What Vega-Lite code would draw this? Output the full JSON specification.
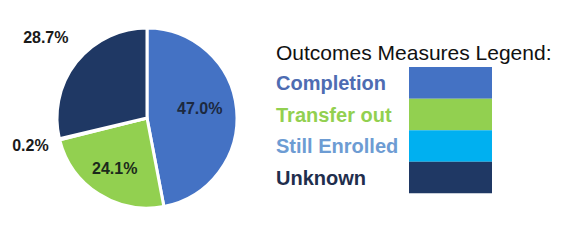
{
  "$schema": "https://vega.github.io/schema/vega-lite/v6.json",
  "padding": {"left": 12, "top": 0, "right": 0, "bottom": 0},
  "spacing": 0,
  "bounds": "flush",
  "background": "white",
  "config": {"view": {"stroke": null}, "font": "Liberation Sans"},
  "datasets": {
    "outcomes": [
      {"category": "Completion", "value": 47.0, "label": "47.0%", "rank": 1},
      {"category": "Transfer out", "value": 24.1, "label": "24.1%", "rank": 2},
      {"category": "Still Enrolled", "value": 0.2, "label": "0.2%", "rank": 3},
      {"category": "Unknown", "value": 28.7, "label": "28.7%", "rank": 4}
    ],
    "legendTitle": [{"title": "Outcomes Measures Legend:"}]
  },
  "hconcat": [
    {
      "width": 258,
      "height": 236,
      "data": {"name": "outcomes"},
      "encoding": {
        "theta": {"field": "value", "type": "quantitative", "stack": true},
        "order": {"field": "rank", "type": "quantitative"}
      },
      "layer": [
        {
          "mark": {"type": "arc", "radius": 90, "stroke": "white", "strokeWidth": 3},
          "encoding": {
            "color": {
              "field": "category",
              "type": "nominal",
              "scale": {
                "domain": ["Completion", "Transfer out", "Still Enrolled", "Unknown"],
                "range": ["#4472C4", "#92D050", "#00B0F0", "#1F3864"]
              },
              "legend": null
            }
          }
        },
        {
          "mark": {"type": "text", "radius": 53, "dy": -4, "fontSize": 16, "fontWeight": "bold", "color": "#1c2940"},
          "encoding": {
            "text": {
              "condition": {"test": "datum.category === 'Completion'", "field": "label"},
              "value": ""
            }
          }
        },
        {
          "mark": {"type": "text", "radius": 60, "fontSize": 16, "fontWeight": "bold", "color": "#1b2a1b"},
          "encoding": {
            "text": {
              "condition": {"test": "datum.category === 'Transfer out'", "field": "label"},
              "value": ""
            }
          }
        },
        {
          "mark": {"type": "text", "radius": 120, "fontSize": 16, "fontWeight": "bold", "color": "#1a1a1a"},
          "encoding": {
            "text": {
              "condition": {"test": "datum.category === 'Still Enrolled'", "field": "label"},
              "value": ""
            }
          }
        },
        {
          "mark": {"type": "text", "radius": 129, "fontSize": 16, "fontWeight": "bold", "color": "#1a1a1a"},
          "encoding": {
            "text": {
              "condition": {"test": "datum.category === 'Unknown'", "field": "label"},
              "value": ""
            }
          }
        }
      ]
    },
    {
      "width": 295,
      "height": 221,
      "layer": [
        {
          "data": {"name": "outcomes"},
          "mark": {"type": "rect"},
          "encoding": {
            "x": {
              "datum": "swatch",
              "type": "nominal",
              "scale": {"type": "band", "domain": ["label", "swatch"], "paddingInner": 0.376, "paddingOuter": 0.297, "align": 0},
              "axis": null
            },
            "y": {
              "field": "category",
              "type": "nominal",
              "scale": {
                "type": "band",
                "domain": ["Outcomes Measures Legend:", "Completion", "Transfer out", "Still Enrolled", "Unknown"],
                "paddingInner": 0,
                "paddingOuter": 1,
                "align": 0.562
              },
              "axis": null
            },
            "color": {
              "field": "category",
              "type": "nominal",
              "scale": {
                "domain": ["Completion", "Transfer out", "Still Enrolled", "Unknown"],
                "range": ["#4472C4", "#92D050", "#00B0F0", "#1F3864"]
              },
              "legend": null
            }
          }
        },
        {
          "data": {"name": "outcomes"},
          "mark": {"type": "text", "align": "left", "fontSize": 20, "fontWeight": "bold", "dy": 1.5},
          "encoding": {
            "x": {"datum": "label", "type": "nominal", "bandPosition": 0, "axis": null},
            "y": {"field": "category", "type": "nominal", "axis": null},
            "text": {"field": "category"},
            "color": {
              "field": "category",
              "type": "nominal",
              "scale": {
                "domain": ["Completion", "Transfer out", "Still Enrolled", "Unknown"],
                "range": ["#4E6CB2", "#92D050", "#6D9CD3", "#1F2E4D"]
              },
              "legend": null
            }
          }
        },
        {
          "data": {"name": "legendTitle"},
          "mark": {"type": "text", "align": "left", "fontSize": 21, "color": "#111111", "dy": 3},
          "encoding": {
            "x": {"datum": "label", "type": "nominal", "bandPosition": 0, "axis": null},
            "y": {"field": "title", "type": "nominal", "axis": null},
            "text": {"field": "title"}
          }
        }
      ],
      "resolve": {"scale": {"color": "independent"}}
    }
  ]
}
